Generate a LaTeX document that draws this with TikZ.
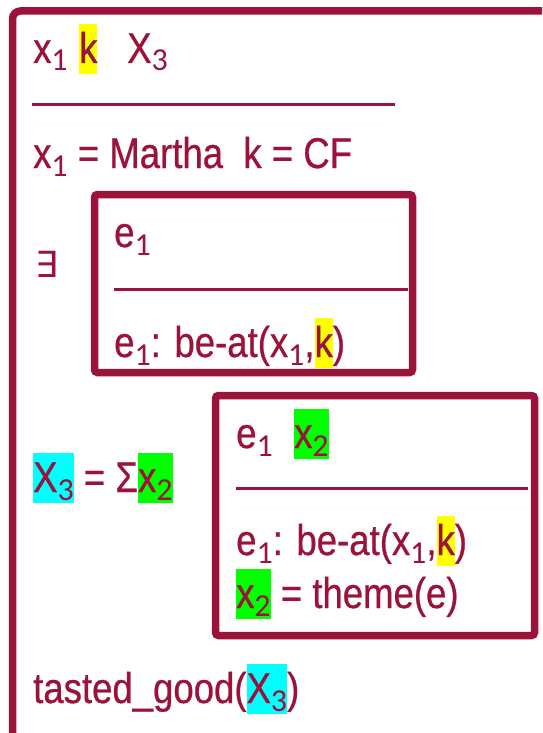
\documentclass[tikz,border=0pt]{standalone}
\usepackage{fontspec}
\setmainfont[FakeStretch=0.85,FakeBold=0.6]{Liberation Sans}
\newfontfamily\subf{Carlito}
\newfontfamily\symf{DejaVu Sans}
\definecolor{drs}{RGB}{155,18,58}
\definecolor{hly}{RGB}{255,255,0}
\definecolor{hlc}{RGB}{0,255,255}
\definecolor{hlg}{RGB}{0,255,0}
\newcommand\subx[1]{\lower8pt\hbox{\fontsize{32}{32}\subf #1}}
\newcommand\hlt[2]{{\setlength\fboxsep{0pt}\colorbox{#1}{\rule[-11pt]{0pt}{50pt}#2}}}
\tikzset{
  drsbox/.style={draw=drs, line width=7.5pt, rounded corners=3pt},
  rule/.style={draw=drs, line width=3pt},
  txt/.style={inner sep=0pt, anchor=base west, text=drs, font=\fontsize{43}{50}\selectfont}
}
\begin{document}
\begin{tikzpicture}[x=1pt,y=-1pt]
\useasboundingbox (0,0) rectangle (542,733);
\clip (0,0) rectangle (542,733);
% outer box
\draw[drsbox, rounded corners=8pt] (12.5,11) rectangle (620,820);
% top universe
\node[txt] (x1) at (33,63) {x\subx{1}};
\node[txt] (k) at (79,63) {\hlt{hly}{k}};
\node[txt] (X3) at (127,63) {X\subx{3}};
\coordinate (l1a) at (32,105);
\coordinate (l1b) at (395,105);
\draw[rule] (l1a) -- (l1b);
\node[txt] (martha) at (33,168) {x\subx{1} = Martha\ \ k = CF};
% exists box
\node[txt] (ex) at (35,277) {\fontsize{36}{40}\symf ∃};
\draw[drsbox] (94.5,194.5) rectangle (412.5,372.5);
\node[txt] (b1e) at (114,247) {e\subx{1}};
\coordinate (l2a) at (114,289);
\coordinate (l2b) at (408,289);
\draw[rule] (l2a) -- (l2b);
\node[txt] (b1c) at (114,357) {e\subx{1}: be-at(x\subx{1},\hlt{hly}{k})};
% sum
\node[txt] (sum) at (33,492) {\hlt{hlc}{X\subx{3}} = Σ\hlt{hlg}{x\subx{2}}};
\draw[drsbox] (215.5,395.5) rectangle (534.5,635.5);
\node[txt] (b2e) at (236,448) {e\subx{1}};
\node[txt] (b2x) at (294,448) {\hlt{hlg}{x\subx{2}}};
\coordinate (l3a) at (236,488);
\coordinate (l3b) at (528,488);
\draw[rule] (l3a) -- (l3b);
\node[txt] (b2c1) at (236,555) {e\subx{1}: be-at(x\subx{1},\hlt{hly}{k})};
\node[txt] (b2c2) at (236,608) {\hlt{hlg}{x\subx{2}} = theme(e)};
% tasted good
\node[txt] (tg) at (33,703) {tasted\_good(\hlt{hlc}{X\subx{3}})};
\end{tikzpicture}
\end{document}
